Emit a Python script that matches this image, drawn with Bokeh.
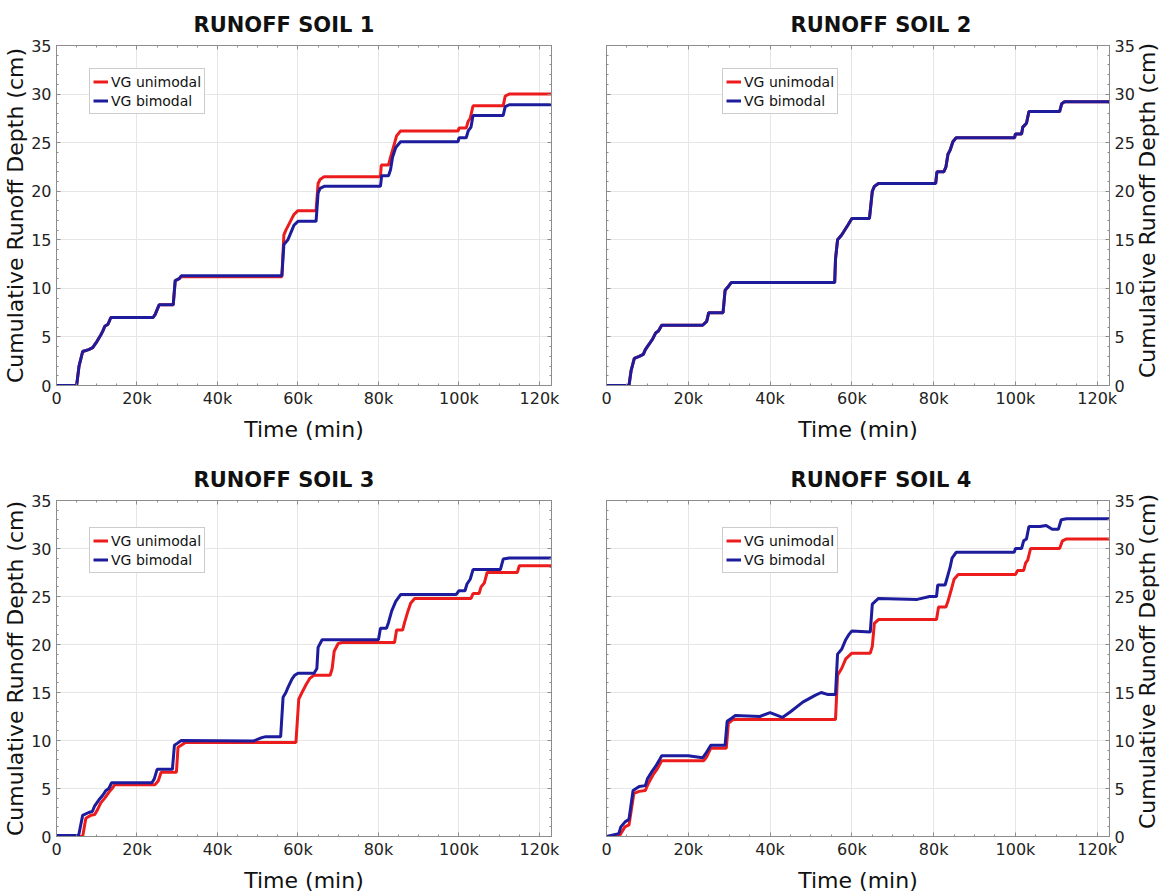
import math
from bokeh.plotting import figure
from bokeh.layouts import column, row
from bokeh.models import (LinearAxis, FixedTicker, CustomJSTickFormatter, Legend, LegendItem,
                          Range1d, Grid, Label)
from bokeh.embed import file_html
from bokeh.resources import INLINE

# ---------------- data ----------------
x_ticks = [0, 20000, 40000, 60000, 80000, 100000, 120000]
x_tick_labels = ["0", "20k", "40k", "60k", "80k", "100k", "120k"]
y_ticks = [0, 5, 10, 15, 20, 25, 30, 35]
series_names = ["VG unimodal", "VG bimodal"]
titles = ["RUNOFF SOIL 1", "RUNOFF SOIL 2", "RUNOFF SOIL 3", "RUNOFF SOIL 4"]
x_label = "Time (min)"
y_label = "Cumulative Runoff Depth (cm)"

soil1_uni_t = [0, 5000, 5600, 6500, 8000, 9000, 9500, 10000, 11000, 11500, 12000, 12800, 13500, 24000, 24500, 25500,
               29000, 29500, 30500, 31000, 56000, 56500, 57000, 58500, 59000, 60000, 64500, 65000, 65500, 66500,
               80500, 80700, 82500, 83000, 83700, 84500, 85500, 99800, 100000, 101800, 102300, 102800, 103500,
               111000, 111500, 112500, 123000]
soil1_uni_d = [0, 0, 2.0, 3.5, 3.7, 3.9, 4.2, 4.5, 5.2, 5.6, 6.1, 6.3, 7.0, 7.0, 7.3, 8.3,
               8.3, 10.8, 11.0, 11.2, 11.2, 15.5, 16.0, 17.2, 17.6, 18.0, 18.0, 20.8, 21.2, 21.5,
               21.5, 22.7, 22.7, 23.5, 24.5, 25.7, 26.2, 26.2, 26.5, 26.5, 27.2, 27.5, 28.8,
               28.8, 29.8, 30.0, 30.0]
soil1_bi_t = [0, 5000, 5600, 6500, 8000, 9000, 9500, 10000, 11000, 11500, 12000, 12800, 13500, 24000, 24500, 25500,
              29000, 29500, 30500, 31000, 56000, 56500, 57500, 58500, 59000, 60000, 64500, 65000, 65500, 66500,
              80500, 80800, 82500, 83000, 83500, 84300, 85500, 99800, 100000, 101800, 102300, 103000, 103500,
              111000, 111500, 112500, 123000]
soil1_bi_d = [0, 0, 2.0, 3.5, 3.7, 3.9, 4.2, 4.5, 5.2, 5.6, 6.1, 6.3, 7.0, 7.0, 7.3, 8.3,
              8.3, 10.8, 11.0, 11.3, 11.3, 14.5, 15.0, 16.0, 16.5, 16.9, 16.9, 19.8, 20.3, 20.5,
              20.5, 21.6, 21.6, 22.2, 23.5, 24.5, 25.1, 25.1, 25.5, 25.5, 26.2, 26.6, 27.8,
              27.8, 28.7, 28.9, 28.9]

soil2_uni_t = [0, 5500, 6000, 6800, 8000, 9000, 9500, 10500, 11300, 12000, 12700, 13500, 23500, 24500, 25000,
               28500, 29000, 29800, 30500, 55800, 56000, 56500, 57500, 59000, 60000, 64300, 64500, 65000, 65500,
               66500, 80500, 80800, 82500, 83000, 83500, 84000, 84700, 85500, 99800, 100000, 101500, 101800,
               102700, 103300, 110800, 111300, 112000, 123000]
soil2_uni_d = [0, 0, 1.5, 2.8, 3.0, 3.2, 3.7, 4.3, 4.8, 5.4, 5.6, 6.2, 6.2, 6.6, 7.5,
               7.5, 9.8, 10.2, 10.6, 10.6, 13.0, 15.0, 15.5, 16.5, 17.2, 17.2, 18.0, 20.0, 20.5,
               20.8, 20.8, 22.0, 22.0, 22.5, 23.8, 24.2, 25.1, 25.5, 25.5, 25.9, 25.9, 26.6,
               27.0, 28.2, 28.2, 29.0, 29.2, 29.2]
soil2_bi_t = [0, 5500, 6000, 6800, 8000, 9000, 9500, 10500, 11300, 12000, 12700, 13500, 23500, 24500, 25000,
              28500, 29000, 29800, 30500, 55800, 56000, 56500, 57500, 59000, 60000, 64300, 64500, 65000, 65500,
              66500, 80500, 80800, 82500, 83000, 83500, 84000, 84700, 85500, 99800, 100000, 101500, 101800,
              102700, 103300, 110800, 111300, 112000, 123000]
soil2_bi_d = [0, 0, 1.5, 2.8, 3.0, 3.2, 3.7, 4.3, 4.8, 5.4, 5.6, 6.2, 6.2, 6.6, 7.5,
              7.5, 9.8, 10.2, 10.6, 10.6, 13.0, 15.0, 15.5, 16.5, 17.2, 17.2, 18.0, 20.0, 20.5,
              20.8, 20.8, 22.0, 22.0, 22.5, 23.8, 24.2, 25.1, 25.5, 25.5, 25.9, 25.9, 26.6,
              27.0, 28.2, 28.2, 29.0, 29.2, 29.2]

soil3_uni_t = [0, 6500, 7300, 8500, 9500, 10200, 11000, 12000, 13000, 13800, 14500, 24500, 25300, 26000, 29800,
               30200, 31000, 32000, 59500, 60200, 61000, 62000, 63000, 64000, 68000, 68500, 69000, 70000, 71000,
               84000, 84500, 86000, 86500, 87200, 88000, 89000, 103000, 103500, 105000, 105500, 106300, 107000,
               114500, 115000, 123000]
soil3_uni_d = [0, 0, 1.9, 2.2, 2.3, 2.8, 3.5, 4.0, 4.6, 5.0, 5.4, 5.4, 5.8, 6.7, 6.7,
               9.3, 9.5, 9.8, 9.8, 14.3, 15.0, 15.8, 16.5, 16.8, 16.8, 17.5, 19.3, 20.1, 20.2,
               20.2, 21.5, 21.5, 22.3, 23.3, 24.3, 24.8, 24.8, 25.3, 25.3, 26.0, 26.4, 27.5,
               27.5, 28.2, 28.2]
soil3_bi_t = [0, 5500, 6500, 8000, 8900, 9500, 10500, 11500, 12300, 13000, 13700, 23700, 24300, 25000, 28800,
              29300, 30000, 31000, 49000, 51000, 52000, 55700, 56300, 57000, 57500, 58500, 59200, 60000, 64000,
              64700, 65000, 66000, 80000, 80500, 82000, 82500, 83300, 84300, 85500, 99300, 100000, 101500,
              102000, 102800, 103500, 110300, 111000, 112500, 123000]
soil3_bi_d = [0.1, 0.1, 2.2, 2.5, 2.6, 3.2, 3.8, 4.3, 4.8, 5.0, 5.6, 5.6, 6.0, 7.0, 7.0,
              9.5, 9.7, 10.0, 9.95, 10.3, 10.4, 10.4, 14.5, 15.0, 15.5, 16.4, 16.8, 17.0, 17.0,
              17.5, 19.7, 20.5, 20.5, 21.7, 21.7, 22.3, 23.5, 24.5, 25.2, 25.2, 25.6, 25.6,
              26.3, 26.8, 27.8, 27.8, 28.9, 29.0, 29.0]

soil4_uni_t = [0, 3000, 3500, 4500, 5500, 6700, 8000, 9500, 10200, 11500, 12500, 13500, 23800, 24500, 25500,
               29300, 29800, 31000, 56000, 56500, 57500, 58500, 60000, 64500, 65000, 65500, 66500, 80700, 81200,
               83000, 83500, 84300, 85000, 86000, 100000, 100500, 102000, 102500, 103000, 103700, 110800, 111500,
               112500, 123000]
soil4_uni_d = [0, 0, 0.3, 1.0, 1.2, 4.5, 4.7, 4.8, 5.5, 6.5, 7.1, 7.9, 7.9, 8.3, 9.2,
               9.2, 11.8, 12.2, 12.2, 16.8, 17.5, 18.5, 19.1, 19.1, 19.8, 22.2, 22.6, 22.6, 23.9,
               23.9, 24.5, 25.7, 26.8, 27.3, 27.3, 27.7, 27.7, 28.5, 28.8, 30.0, 30.0, 30.8,
               31.0, 31.0]
soil4_bi_t = [0, 3000, 3500, 4500, 5500, 6500, 8000, 9500, 10000, 11000, 12000, 12700, 13500, 20000, 23500,
              24500, 25500, 29000, 29500, 30500, 31500, 37500, 40000, 43000, 45000, 48000, 51000, 52500, 54000,
              56000, 56500, 57500, 58500, 59200, 60000, 64500, 65000, 66500, 76000, 79000, 80700, 81000, 82800,
              83200, 84000, 84500, 85500, 99700, 100000, 101500, 102000, 102700, 103300, 106000, 107500, 109000,
              110500, 111200, 112500, 123000]
soil4_bi_d = [0, 0.3, 1.0, 1.5, 1.8, 4.8, 5.2, 5.3, 6.0, 6.7, 7.3, 7.8, 8.4, 8.4, 8.2,
              8.8, 9.5, 9.5, 12.0, 12.3, 12.6, 12.5, 12.9, 12.4, 13.0, 14.0, 14.7, 15.0, 14.8,
              14.8, 19.0, 19.5, 20.5, 21.0, 21.4, 21.3, 24.2, 24.8, 24.7, 25.0, 25.0, 26.2, 26.2,
              26.8, 28.0, 29.0, 29.6, 29.6, 30.0, 30.0, 30.8, 31.0, 32.3, 32.3, 32.4, 32.0,
              32.0, 33.0, 33.1, 33.1]

# ---------------- style ----------------
RED = "#ec1c1c"
BLUE = "#1c1c9c"
AX = "#8c8c8c"
FONT = "DejaVu Sans"
X_END = 123000
Y_END = 35
x_minor = list(range(0, 125000, 5000))
y_minor = list(range(0, 36))


def style_axis(ax, show_labels, label=None):
    ax.axis_line_color = AX
    ax.major_tick_line_color = AX
    ax.minor_tick_line_color = AX
    ax.major_tick_in = 4
    ax.major_tick_out = 0
    ax.minor_tick_in = 2
    ax.minor_tick_out = 0
    if show_labels:
        ax.major_label_text_font = FONT
        ax.major_label_text_font_size = "16px"
        ax.major_label_text_color = "#222222"
        if label:
            ax.axis_label = label
            ax.axis_label_text_font = FONT
            ax.axis_label_text_font_size = "22px"
            ax.axis_label_text_font_style = "normal"
            ax.axis_label_text_color = "#111111"
    else:
        ax.formatter = CustomJSTickFormatter(code="return ''")
        ax.major_label_text_font_size = "1px"
        ax.major_label_text_color = None
        ax.major_label_standoff = 0


def make_panel(title, ut, ud, bt, bd, yside, width, height, borders, title_offset, legend_xy):
    bl, br, bt_, bb = borders
    p = figure(width=width, height=height, output_backend="svg", toolbar_location=None,
               x_range=Range1d(0, X_END), y_range=Range1d(0, Y_END),
               x_axis_location=None, y_axis_location=None,
               min_border_left=bl, min_border_right=br, min_border_top=bt_, min_border_bottom=bb,
               background_fill_color="white", border_fill_color="white")
    p.outline_line_color = AX
    frame_h = height - bt_ - bb

    p.title.text = title
    p.title.align = "left"
    p.title.offset = title_offset
    p.title.standoff = 17
    p.title.text_font = FONT
    p.title.text_font_size = "21px"
    p.title.text_font_style = "bold"
    p.title.text_color = "#111111"

    xt = FixedTicker(ticks=x_ticks, minor_ticks=x_minor)
    yt = FixedTicker(ticks=y_ticks, minor_ticks=y_minor)

    xb = LinearAxis(ticker=xt, major_label_overrides={v: s for v, s in zip(x_ticks, x_tick_labels)})
    style_axis(xb, True, x_label)
    xb.major_label_standoff = 3
    xb.axis_label_standoff = 6
    p.add_layout(xb, "below")

    xtop = LinearAxis(ticker=xt)
    style_axis(xtop, False)
    p.add_layout(xtop, "above")

    ymain = LinearAxis(ticker=yt)
    ymain.major_label_standoff = 5
    if yside == "left":
        style_axis(ymain, True, y_label)
        ymain.axis_label_standoff = 0
        p.add_layout(ymain, "left")
    else:
        style_axis(ymain, True, None)
        p.add_layout(ymain, "right")
        p.add_layout(Label(x=10, y=frame_h / 2 + 5, x_units="screen", y_units="screen",
                           text=y_label, angle=math.pi / 2, text_align="center", text_baseline="middle",
                           text_font=FONT, text_font_size="22px", text_color="#111111"), "right")

    yother = LinearAxis(ticker=yt)
    style_axis(yother, False)
    p.add_layout(yother, "right" if yside == "left" else "left")

    p.add_layout(Grid(dimension=0, ticker=xt, grid_line_color="#e6e6e6", grid_line_width=1))
    p.add_layout(Grid(dimension=1, ticker=yt, grid_line_color="#e6e6e6", grid_line_width=1))

    r1 = p.line(ut, ud, line_color=RED, line_width=3)
    r2 = p.line(bt, bd, line_color=BLUE, line_width=3)

    legend = Legend(items=[LegendItem(label=series_names[0], renderers=[r1]),
                           LegendItem(label=series_names[1], renderers=[r2])],
                    location=legend_xy,
                    label_text_font=FONT, label_text_font_size="14px", label_text_color="#111111",
                    glyph_width=15, glyph_height=19, label_height=19, label_standoff=3,
                    padding=3, spacing=0, margin=0,
                    border_line_color="#9a9a9a", border_line_width=1,
                    background_fill_color="white", background_fill_alpha=1.0)
    p.add_layout(legend)
    return p


# top row: height 450, frame 45..385 ; bottom row: height 445, frame 500..840 (50..390 local)
p1 = make_panel(titles[0], soil1_uni_t, soil1_uni_d, soil1_bi_t, soil1_bi_d, "left",
                580, 450, (56, 29, 45, 65), 137, (33, 271))
p2 = make_panel(titles[1], soil2_uni_t, soil2_uni_d, soil2_bi_t, soil2_bi_d, "right",
                583, 450, (26, 54, 45, 65), 184, (116, 271))
p3 = make_panel(titles[2], soil3_uni_t, soil3_uni_d, soil3_bi_t, soil3_bi_d, "left",
                580, 445, (56, 29, 50, 55), 137, (33, 263))
p4 = make_panel(titles[3], soil4_uni_t, soil4_uni_d, soil4_bi_t, soil4_bi_d, "right",
                583, 445, (26, 54, 50, 55), 184, (116, 263))

layout = column(row(p1, p2, spacing=0), row(p3, p4, spacing=0), spacing=0)
open("out.html", "w").write(file_html(layout, INLINE))
